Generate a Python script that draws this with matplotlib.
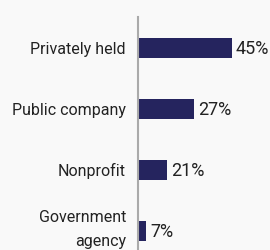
import matplotlib.pyplot as plt

categories = ["Privately held", "Public company", "Nonprofit", "Government\nagency"]
bar_lengths = [45, 27, 14, 4]   # drawn lengths as they appear in the picture
value_labels = ["45%", "27%", "21%", "7%"]

bg = "#f9f9f9"
fig = plt.figure(figsize=(2.70, 2.51), dpi=100, facecolor=bg)
ax = fig.add_axes([138 / 270, 0, 132 / 270, 233 / 251])
ax.set_facecolor(bg)

ypos = list(range(len(categories)))
ax.barh(ypos, bar_lengths, height=0.33, color="#25245e")
ax.set_ylim(3.31, -0.51)
ax.set_xlim(0, 63.2)

for y, v, lab in zip(ypos, bar_lengths, value_labels):
    ax.text(v + 1.8, y, lab, va="center", ha="left", fontsize=13,
            family="Roboto", color="#222222", clip_on=False)

# category names drawn as texts so the two-line one can sit a bit higher
for y, cat in zip(ypos, categories):
    yy = y - 0.04 if "\n" in cat else y
    ax.text(-12 / 132, yy, cat, transform=ax.get_yaxis_transform(),
            va="center", ha="right", fontsize=11.5, family="Roboto",
            color="#222222", linespacing=1.7)

ax.set_yticks([])
ax.set_xticks([])
for s in ["top", "right", "bottom"]:
    ax.spines[s].set_visible(False)
ax.spines["left"].set_color("#aaaaaa")
ax.spines["left"].set_linewidth(1.5)

fig.savefig("out.png", dpi=100, facecolor=bg)
